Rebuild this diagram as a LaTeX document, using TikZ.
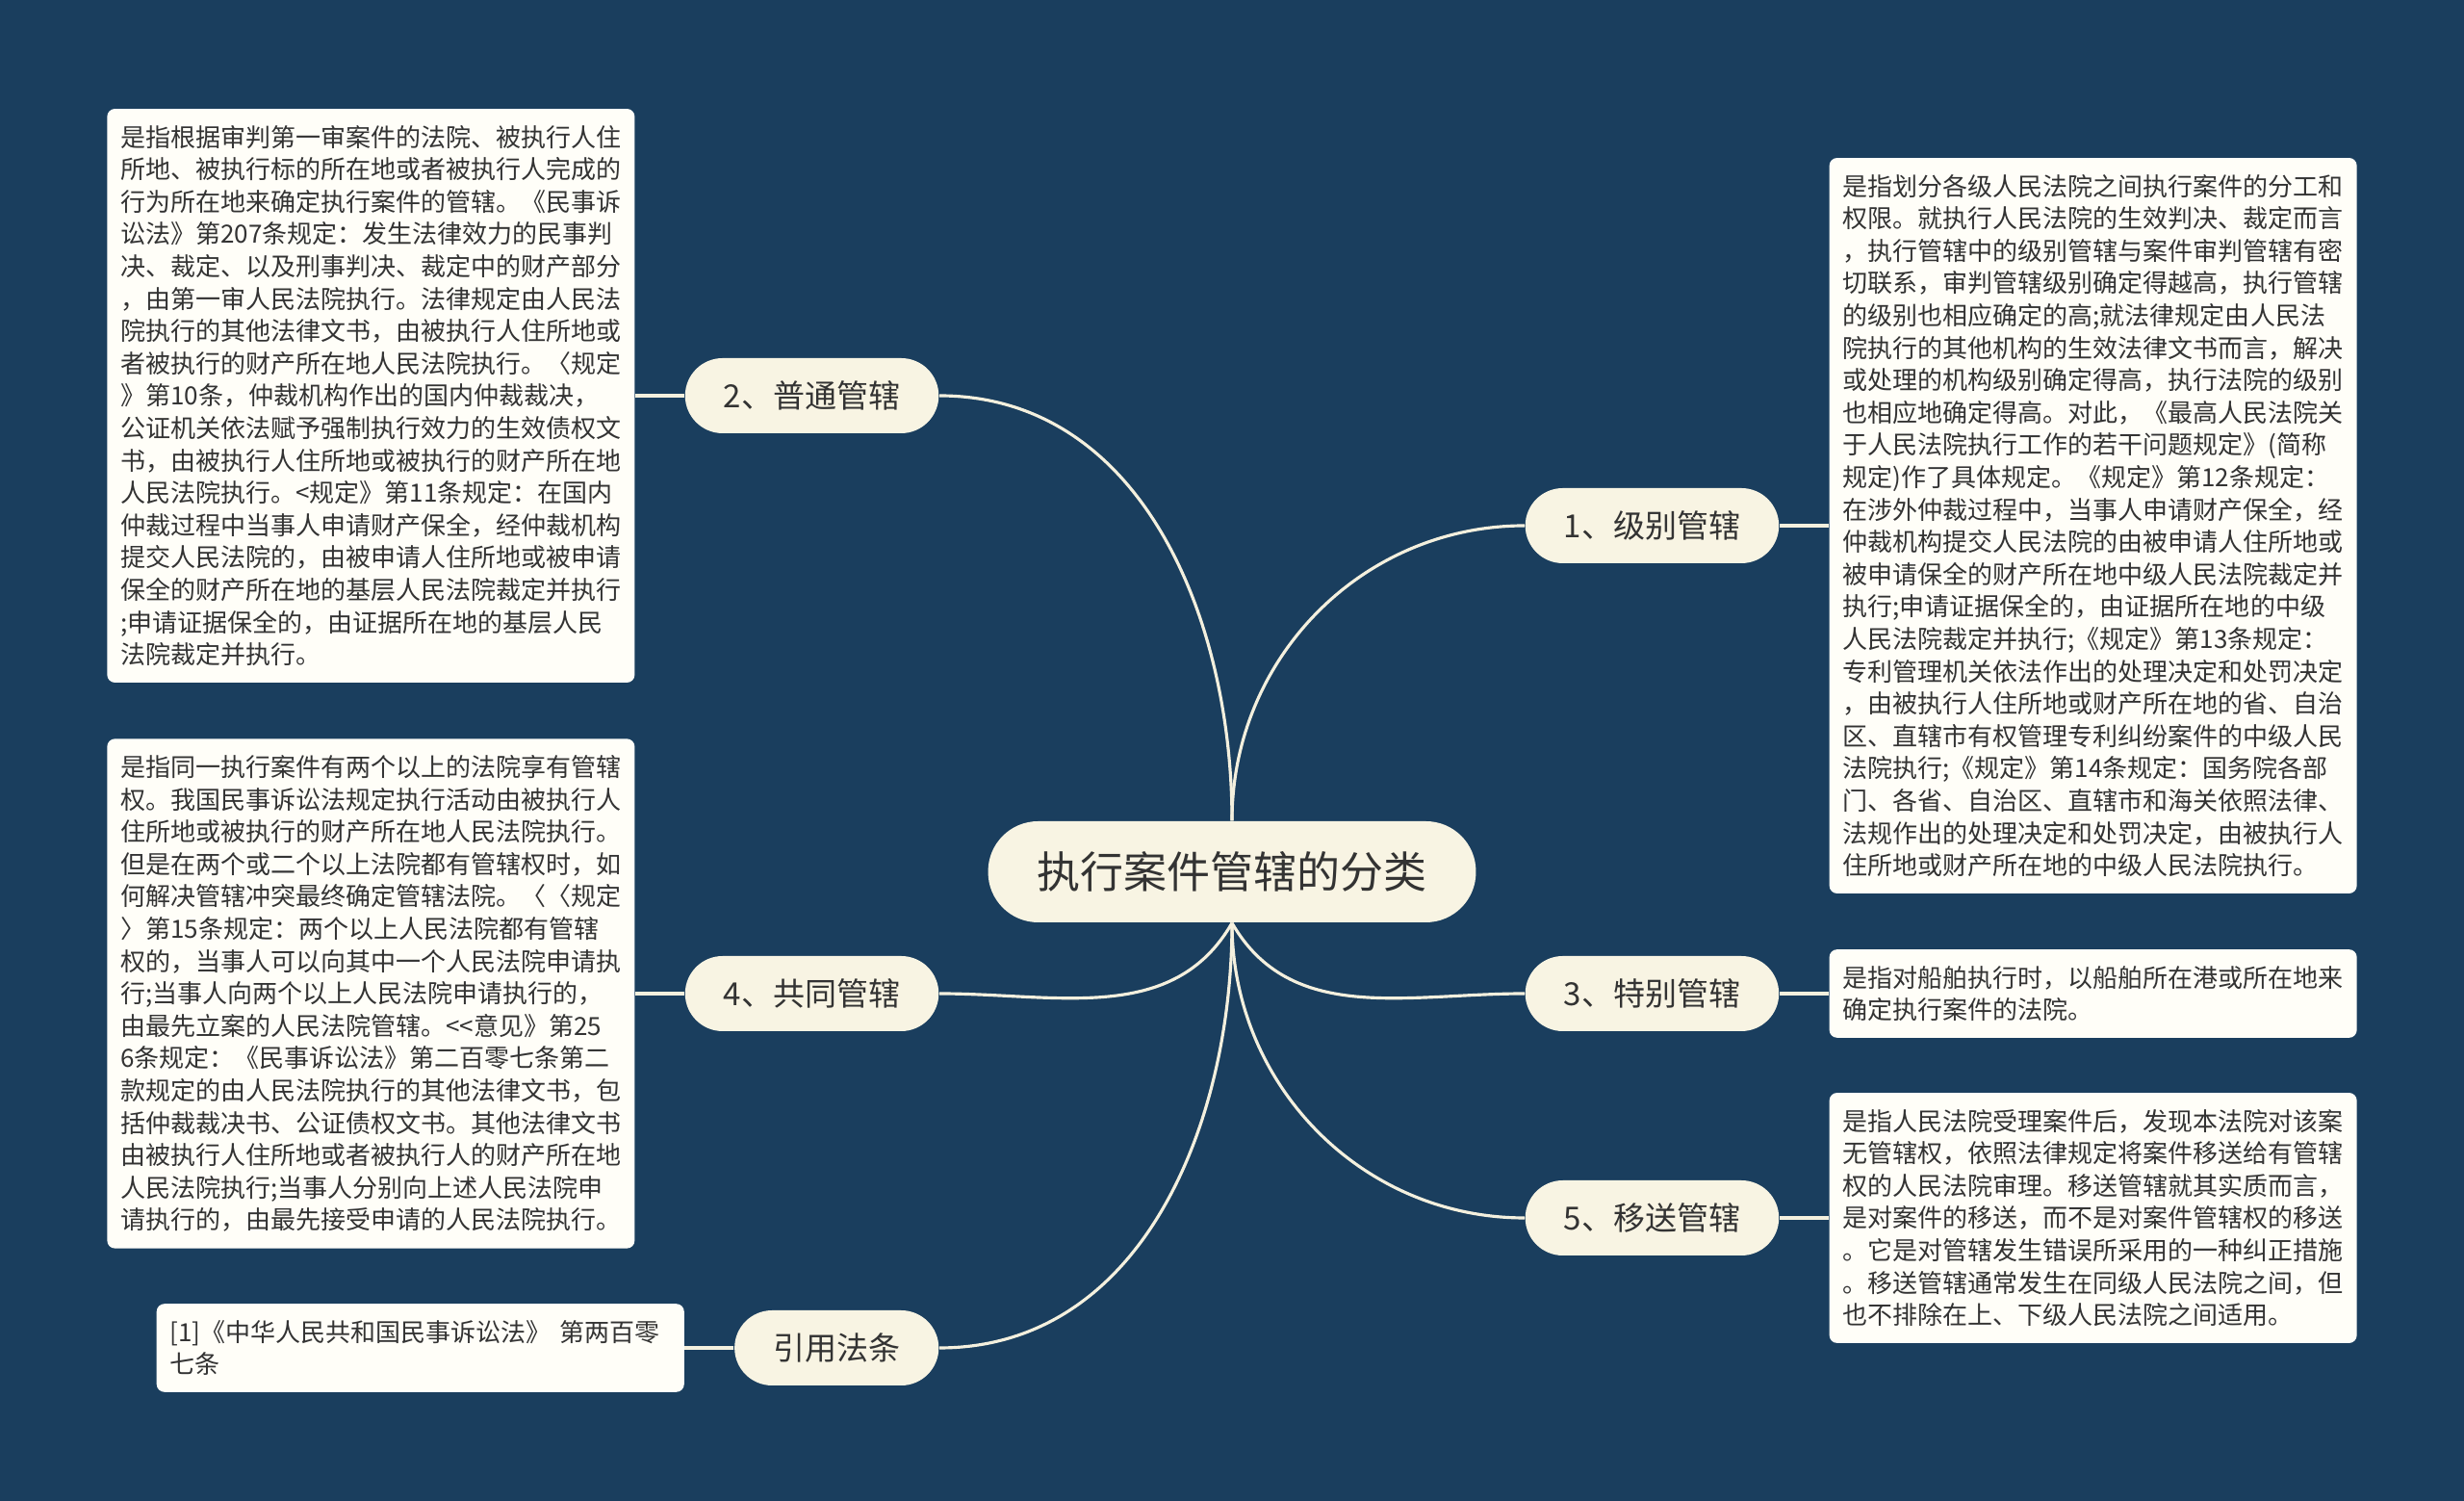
\documentclass[tikz,border=0pt]{standalone}
\usepackage{fontspec}
\newfontfamily\cjk{Noto Sans CJK SC}
\usetikzlibrary{positioning}
\definecolor{navy}{HTML}{1A3E5E}
\definecolor{cream}{HTML}{F8F4E3}
\definecolor{paper}{HTML}{FFFEF8}
\definecolor{ink}{HTML}{333333}
\definecolor{linkc}{HTML}{F4F0DE}

\begin{document}
\begin{tikzpicture}[node distance=0.51cm,
    topic/.style={rounded corners=0.52cm,fill=cream,text=ink,minimum height=1.05cm,inner xsep=0.51cm,font=\cjk\fontsize{12.8pt}{15pt}\selectfont},
    branch/.style={rounded corners=0.39cm,fill=cream,text=ink,minimum height=0.78cm,inner xsep=0.4cm,font=\cjk\fontsize{9.4pt}{11pt}\selectfont},
    note/.style={rounded corners=0.08cm,fill=paper,text=ink,text width=5.2cm,align=left,inner xsep=0.14cm,inner ysep=0.17cm,font=\cjk\fontsize{7.4pt}{9.56pt}\selectfont},
    link/.style={draw=linkc,line width=0.9pt}]
  \fill[navy] (0,0) rectangle (25.6,15.59);
  % centre and branches
  \node[topic] (root) at (12.80,6.535) {执行案件管辖的分类};
  \node[branch,anchor=east] (b2) at (9.76,11.48) {2、普通管辖};
  \node[branch,anchor=west] (b1) at (15.84,10.13) {1、级别管辖};
  \node[branch,anchor=east] (b4) at (9.76,5.27) {4、共同管辖};
  \node[branch,anchor=west] (b3) at (15.84,5.27) {3、特别管辖};
  \node[branch,anchor=west] (b5) at (15.84,2.94) {5、移送管辖};
  \node[branch,anchor=east] (law) at (9.76,1.59) {引用法条};
  % notes
  \node[note,left=of b2] (d2) {是指根据审判第一审案件的法院、被执行人住\\
所地、被执行标的所在地或者被执行人完成的\\
行为所在地来确定执行案件的管辖。《民事诉\\
讼法》第207条规定：发生法律效力的民事判\\
决、裁定、以及刑事判决、裁定中的财产部分\\
，由第一审人民法院执行。法律规定由人民法\\
院执行的其他法律文书，由被执行人住所地或\\
者被执行的财产所在地人民法院执行。〈规定\\
》第10条，仲裁机构作出的国内仲裁裁决，\\
公证机关依法赋予强制执行效力的生效债权文\\
书，由被执行人住所地或被执行的财产所在地\\
人民法院执行。<规定》第11条规定：在国内\\
仲裁过程中当事人申请财产保全，经仲裁机构\\
提交人民法院的，由被申请人住所地或被申请\\
保全的财产所在地的基层人民法院裁定并执行\\
;申请证据保全的，由证据所在地的基层人民\\
法院裁定并执行。};
  \node[note,right=of b1] (d1) {是指划分各级人民法院之间执行案件的分工和\\
权限。就执行人民法院的生效判决、裁定而言\\
，执行管辖中的级别管辖与案件审判管辖有密\\
切联系，审判管辖级别确定得越高，执行管辖\\
的级别也相应确定的高;就法律规定由人民法\\
院执行的其他机构的生效法律文书而言，解决\\
或处理的机构级别确定得高，执行法院的级别\\
也相应地确定得高。对此，《最高人民法院关\\
于人民法院执行工作的若干问题规定》(简称\\
规定)作了具体规定。《规定》第12条规定：\\
在涉外仲裁过程中，当事人申请财产保全，经\\
仲裁机构提交人民法院的由被申请人住所地或\\
被申请保全的财产所在地中级人民法院裁定并\\
执行;申请证据保全的，由证据所在地的中级\\
人民法院裁定并执行;《规定》第13条规定：\\
专利管理机关依法作出的处理决定和处罚决定\\
，由被执行人住所地或财产所在地的省、自治\\
区、直辖市有权管理专利纠纷案件的中级人民\\
法院执行;《规定》第14条规定：国务院各部\\
门、各省、自治区、直辖市和海关依照法律、\\
法规作出的处理决定和处罚决定，由被执行人\\
住所地或财产所在地的中级人民法院执行。};
  \node[note,left=of b4] (d4) {是指同一执行案件有两个以上的法院享有管辖\\
权。我国民事诉讼法规定执行活动由被执行人\\
住所地或被执行的财产所在地人民法院执行。\\
但是在两个或二个以上法院都有管辖权时，如\\
何解决管辖冲突最终确定管辖法院。〈〈规定\\
〉第15条规定：两个以上人民法院都有管辖\\
权的，当事人可以向其中一个人民法院申请执\\
行;当事人向两个以上人民法院申请执行的，\\
由最先立案的人民法院管辖。<<意见》第25\\
6条规定：《民事诉讼法》第二百零七条第二\\
款规定的由人民法院执行的其他法律文书，包\\
括仲裁裁决书、公证债权文书。其他法律文书\\
由被执行人住所地或者被执行人的财产所在地\\
人民法院执行;当事人分别向上述人民法院申\\
请执行的，由最先接受申请的人民法院执行。};
  \node[note,right=of b3] (d3) {是指对船舶执行时，以船舶所在港或所在地来\\
确定执行案件的法院。};
  \node[note,right=of b5] (d5) {是指人民法院受理案件后，发现本法院对该案\\
无管辖权，依照法律规定将案件移送给有管辖\\
权的人民法院审理。移送管辖就其实质而言，\\
是对案件的移送，而不是对案件管辖权的移送\\
。它是对管辖发生错误所采用的一种纠正措施\\
。移送管辖通常发生在同级人民法院之间，但\\
也不排除在上、下级人民法院之间适用。};
  \node[note,left=of law] (dlaw) {[1]《中华人民共和国民事诉讼法》~第两百零\\
七条};
  % links
  \draw[link] (root.north) to[out=90,in=0] (b2.east);
  \draw[link] (root.north) to[out=90,in=180] (b1.west);
  \draw[link] (root.south) to[out=-120,in=0] (b4.east);
  \draw[link] (root.south) to[out=-60,in=180] (b3.west);
  \draw[link] (root.south) to[out=-90,in=180] (b5.west);
  \draw[link] (root.south) to[out=-90,in=0] (law.east);
  \draw[link] (b2) -- (d2);
  \draw[link] (b1) -- (d1);
  \draw[link] (b4) -- (d4);
  \draw[link] (b3) -- (d3);
  \draw[link] (b5) -- (d5);
  \draw[link] (law) -- (dlaw);
\end{tikzpicture}
\end{document}
